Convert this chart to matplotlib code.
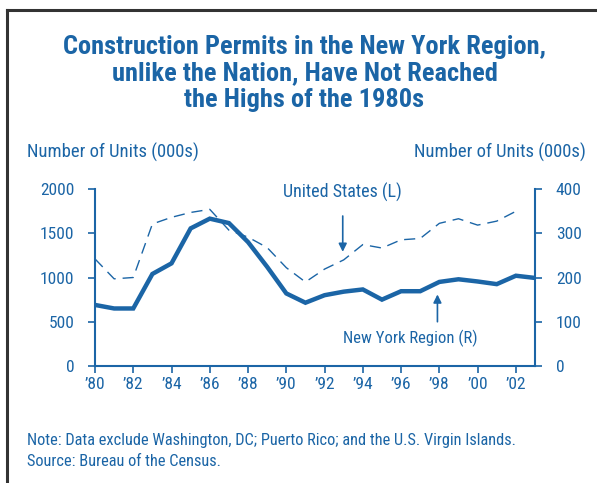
import matplotlib
matplotlib.use('Agg')
import matplotlib.pyplot as plt
from matplotlib.lines import Line2D

# data (thousands of units)
years = list(range(1980, 2004))
us_years = list(range(1980, 2003))
us_permits = [1210, 985, 1000, 1605, 1680, 1735, 1770, 1535, 1456, 1338, 1111, 949,
              1095, 1199, 1372, 1333, 1426, 1441, 1612, 1664, 1592, 1637, 1748]
ny_permits = [138, 130, 130, 208, 232, 311, 333, 323, 280, 224, 164, 143,
              160, 168, 173, 150, 169, 169, 190, 196, 191, 185, 204, 199]
xticks = list(range(1980, 2003, 2))
xlabels = ['\u2019' + str(y)[2:] for y in xticks]

blue = '#1b65a6'
fnt = ['Roboto Condensed', 'DejaVu Sans']
plt.rcParams['font.family'] = fnt

fig = plt.figure(figsize=(5.97, 4.83), dpi=100)
ax = fig.add_axes([95/597, 1-366/483, 440/597, 177/483])
ax2 = ax.twinx()

ax.plot(us_years, us_permits, color=blue, lw=1.0, dashes=(8, 5))
ax2.plot(years, ny_permits, color=blue, lw=3.2, solid_joinstyle='miter')

ax.set_xlim(1980, 2003)
ax.set_ylim(0, 2000)
ax2.set_ylim(0, 400)
ax.set_yticks([0, 500, 1000, 1500, 2000])
ax2.set_yticks([0, 100, 200, 300, 400])
ax.set_xticks(xticks)
ax.set_xticklabels(xlabels)

for a in (ax, ax2):
    for s in a.spines.values():
        s.set_visible(False)
    a.tick_params(colors=blue, labelcolor=blue, labelsize=12.5, width=1.2, length=5)
ax.spines['left'].set_visible(True)
ax.spines['bottom'].set_visible(True)
ax2.spines['right'].set_visible(True)
for s in (ax.spines['left'], ax.spines['bottom'], ax2.spines['right']):
    s.set_color(blue)
    s.set_linewidth(1.5)
ax.tick_params(axis='y', pad=10)
ax2.tick_params(axis='y', pad=10)
ax.tick_params(axis='x', pad=3)

title_lines = ['Construction Permits in the New York Region,',
               'unlike the Nation, Have Not Reached',
               'the Highs of the 1980s']
for i, t in enumerate(title_lines):
    fig.text(0.51, 1-(47+26.5*i)/483, t, ha='center', va='center',
             color=blue, fontsize=19, fontweight='bold')

fig.text(27/597, 1-152/483, 'Number of Units (000s)', ha='left', va='center', color=blue, fontsize=13.4)
fig.text(586/597, 1-152/483, 'Number of Units (000s)', ha='right', va='center', color=blue, fontsize=13.4)

ax.annotate('United States (L)', xy=(1992.95, 1290), xytext=(1992.95, 1960), ha='center', va='center',
            color=blue, fontsize=13,
            arrowprops=dict(arrowstyle='-|>', color=blue, lw=1.2, shrinkA=8, shrinkB=0, mutation_scale=12))
ax2.text(1996.5, 62, 'New York Region (R)', ha='center', va='center', color=blue, fontsize=12)
ax2.annotate('', xy=(1997.9, 168), xytext=(1997.9, 100),
             arrowprops=dict(arrowstyle='-|>', color=blue, lw=1.2, shrinkA=0, shrinkB=2, mutation_scale=12))

fig.text(27/597, 1-440/483, 'Note: Data exclude Washington, DC; Puerto Rico; and the U.S. Virgin Islands.',
         ha='left', va='center', color=blue, fontsize=11.75)
fig.text(27/597, 1-462/483, 'Source: Bureau of the Census.', ha='left', va='center', color=blue, fontsize=11.75)

# frame
fig.add_artist(Line2D([7/597, 7/597], [0, 1-10/483], color='#333333', lw=2.2, transform=fig.transFigure))
fig.add_artist(Line2D([7/597, 1], [1-10/483, 1-10/483], color='#333333', lw=2.2, transform=fig.transFigure))

fig.savefig('out.png', dpi=100)
